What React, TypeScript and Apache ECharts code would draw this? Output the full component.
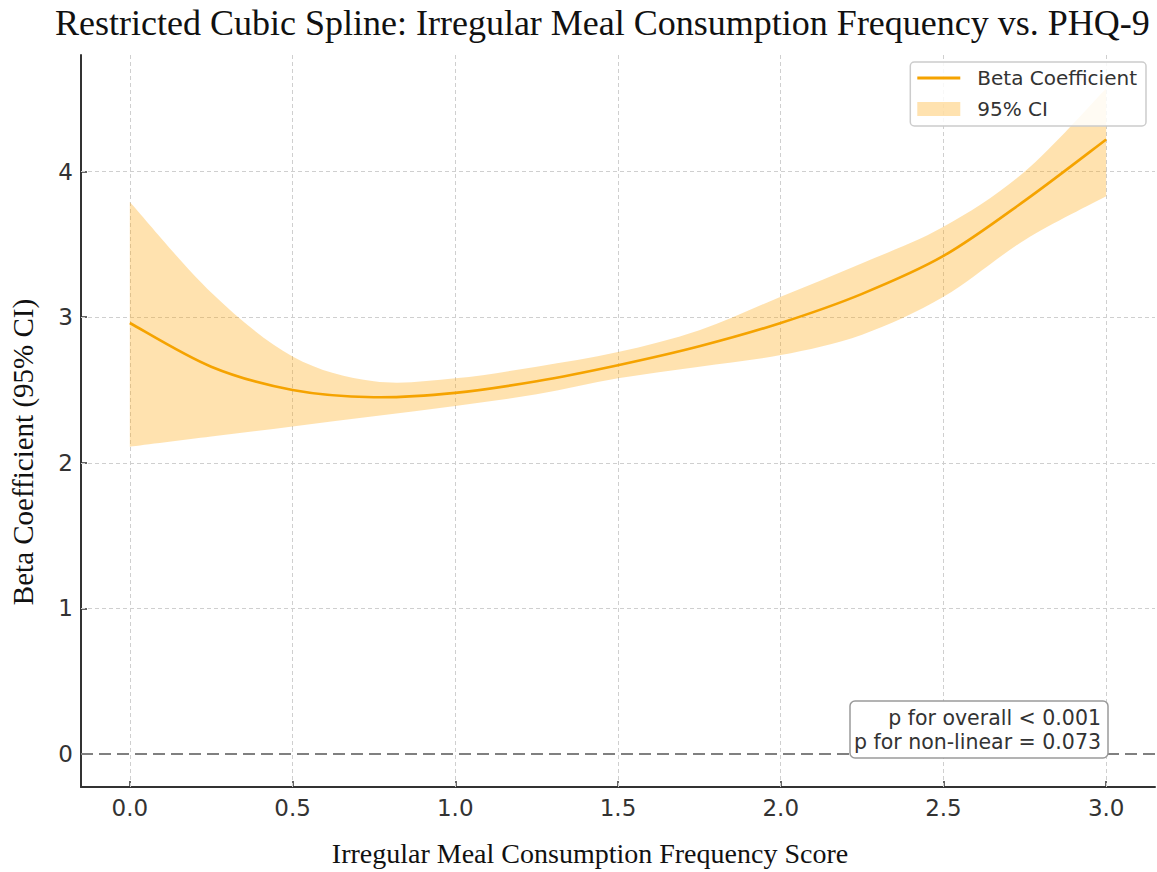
import React, { useEffect, useRef } from "react";
import * as echarts from "echarts";

const xValues = [0, 0.25, 0.5, 0.75, 1.0, 1.25, 1.5, 1.75, 2.0, 2.25, 2.5, 2.75, 3.0];
const betaValues = [2.96, 2.66, 2.5, 2.45, 2.48, 2.56, 2.67, 2.8, 2.96, 3.16, 3.42, 3.8, 4.22];
const upperValues = [3.79, 3.17, 2.73, 2.56, 2.58, 2.66, 2.76, 2.91, 3.14, 3.37, 3.62, 4.0, 4.57];
const lowerValues = [2.11, 2.18, 2.25, 2.32, 2.39, 2.47, 2.58, 2.66, 2.74, 2.88, 3.14, 3.53, 3.83];

const xTicks = [0, 0.5, 1.0, 1.5, 2.0, 2.5, 3.0];
const yTicks = [0, 1, 2, 3, 4];

const pTexts = ["p for overall < 0.001", "p for non-linear = 0.073"];

const SANS = "DejaVu Sans";
const SERIF = "Liberation Serif";
const ORANGE = "#F5A300";
const BAND = "rgba(255,170,20,0.34)";

// Catmull-Rom spline through pixel points -> cubic Bezier path segments
function splineSegments(pts: number[][]): string {
  let s = "";
  for (let i = 0; i < pts.length - 1; i++) {
    const p0 = pts[i - 1] || pts[i];
    const p1 = pts[i];
    const p2 = pts[i + 1];
    const p3 = pts[i + 2] || p2;
    const c1x = p1[0] + (p2[0] - p0[0]) / 6;
    const c1y = p1[1] + (p2[1] - p0[1]) / 6;
    const c2x = p2[0] - (p3[0] - p1[0]) / 6;
    const c2y = p2[1] - (p3[1] - p1[1]) / 6;
    s += ` C${c1x},${c1y} ${c2x},${c2y} ${p2[0]},${p2[1]}`;
  }
  return s;
}

export default function App() {
  const ref = useRef<HTMLDivElement>(null);

  useEffect(() => {
    if (!ref.current) return;
    const chart = echarts.init(ref.current, null, { renderer: "svg" });

    const bandData = xValues.map((x, i) => [x, lowerValues[i], upperValues[i]]);
    const betaData = xValues.map((x, i) => [x, betaValues[i]]);

    const gridLineStyle = { color: "#cfcfcf", width: 1, type: [4, 3] as any };

    const option: any = {
      animation: false,
      backgroundColor: "#fff",
      title: {
        text: "Restricted Cubic Spline: Irregular Meal Consumption Frequency vs. PHQ-9",
        left: 50,
        top: 0,
        textStyle: { fontFamily: SERIF, fontSize: 36, fontWeight: "normal", color: "#111" },
      },
      legend: {
        orient: "vertical",
        right: 11,
        top: 62,
        padding: [6, 9, 7, 7],
        itemGap: 11,
        itemWidth: 55,
        itemHeight: 14,
        backgroundColor: "rgba(255,255,255,0.85)",
        borderColor: "#cccccc",
        borderWidth: 1.5,
        borderRadius: 4,
        textStyle: { fontFamily: SANS, fontSize: 20, color: "#333" },
        data: [
          {
            name: "Beta Coefficient",
            icon: "path://M0,0 L43,0 L43,3 L0,3 Z M55,1.5 L55.01,1.5",
            itemStyle: { color: ORANGE },
          },
          {
            name: "95% CI",
            icon: "path://M0,0 L43,0 L43,14 L0,14 Z M55,0 L55.01,0",
            itemStyle: { color: BAND },
          },
        ],
      },
      grid: { left: 78, right: 2, top: 55, bottom: 84 },
      xAxis: {
        type: "value",
        min: -0.15,
        max: 3.15,
        name: "Irregular Meal Consumption Frequency Score",
        nameLocation: "middle",
        nameGap: 52,
        nameTextStyle: {
          fontFamily: SERIF,
          fontSize: 28,
          color: "#111",
          padding: [0, 56, 0, 0],
        },
        axisLine: { show: true, onZero: false, lineStyle: { color: "#333", width: 2 } },
        axisTick: {
          show: true,
          inside: true,
          length: 6,
          customValues: xTicks,
          lineStyle: { color: "#333", width: 1.5 },
        },
        axisLabel: {
          customValues: xTicks,
          formatter: (v: number) => v.toFixed(1),
          fontFamily: SANS,
          fontSize: 23,
          color: "#333",
          margin: 9,
        },
        splitLine: { show: false },
      },
      yAxis: {
        type: "value",
        min: -0.226,
        max: 4.8,
        name: "Beta Coefficient (95% CI)",
        nameLocation: "middle",
        nameGap: 44,
        nameTextStyle: {
          fontFamily: SERIF,
          fontSize: 29,
          color: "#111",
          padding: [0, 62, 0, 0],
        },
        axisLine: { show: true, onZero: false, lineStyle: { color: "#333", width: 2 } },
        axisTick: {
          show: true,
          inside: true,
          length: 6,
          customValues: yTicks,
          lineStyle: { color: "#333", width: 1.5 },
        },
        axisLabel: {
          customValues: yTicks,
          formatter: (v: number) => String(Math.round(v)),
          fontFamily: SANS,
          fontSize: 23,
          color: "#333",
          margin: 8,
        },
        splitLine: { show: false },
      },
      series: [
        {
          name: "95% CI",
          type: "custom",
          data: bandData,
          encode: { x: 0, y: [1, 2] },
          silent: true,
          itemStyle: { color: BAND },
          z: 2,
          renderItem: (params: any, api: any) => {
            if (params.dataIndex !== 0) return null;
            const up = xValues.map((x, i) => api.coord([x, upperValues[i]]));
            const lo = xValues.map((x, i) => api.coord([x, lowerValues[i]])).reverse();
            const d =
              `M${up[0][0]},${up[0][1]}` +
              splineSegments(up) +
              ` L${lo[0][0]},${lo[0][1]}` +
              splineSegments(lo) +
              " Z";
            return {
              type: "path",
              shape: { pathData: d },
              style: { fill: BAND, stroke: "none" },
            };
          },
          markLine: {
            silent: true,
            symbol: ["none", "none"],
            label: { show: false },
            lineStyle: gridLineStyle,
            z: 1,
            data: [
              ...xTicks.map((v) => ({ xAxis: v })),
              ...yTicks.filter((v) => v !== 0).map((v) => ({ yAxis: v })),
            ],
          },
        },
        {
          name: "Beta Coefficient",
          type: "custom",
          data: betaData,
          encode: { x: 0, y: 1 },
          silent: true,
          itemStyle: { color: ORANGE },
          z: 3,
          renderItem: (params: any, api: any) => {
            if (params.dataIndex !== 0) return null;
            const pts = xValues.map((x, i) => api.coord([x, betaValues[i]]));
            const d = `M${pts[0][0]},${pts[0][1]}` + splineSegments(pts);
            return {
              type: "path",
              shape: { pathData: d },
              style: { fill: "none", stroke: ORANGE, lineWidth: 2.6 },
            };
          },
          markLine: {
            silent: true,
            symbol: ["none", "none"],
            label: { show: false },
            lineStyle: { color: "#808080", width: 2, type: [12, 6] },
            data: [{ yAxis: 0 }],
          },
        },
      ],
      graphic: [
        {
          type: "rect",
          z: 100,
          shape: { x: 850, y: 701, width: 258, height: 57, r: 5 },
          style: { fill: "#fff", stroke: "#9a9a9a", lineWidth: 1.5 },
        },
        {
          type: "text",
          z: 101,
          x: 1101,
          y: 718,
          style: {
            text: pTexts[0],
            font: `20.5px '${SANS}'`,
            fill: "#333",
            align: "right",
            verticalAlign: "middle",
          },
        },
        {
          type: "text",
          z: 101,
          x: 1101,
          y: 742,
          style: {
            text: pTexts[1],
            font: `20.5px '${SANS}'`,
            fill: "#333",
            align: "right",
            verticalAlign: "middle",
          },
        },
      ],
    };

    chart.setOption(option);
    return () => chart.dispose();
  }, []);

  return (
    <div
      ref={ref}
      style={{ position: "absolute", left: 0, top: 0, width: 1157, height: 872 }}
    />
  );
}
